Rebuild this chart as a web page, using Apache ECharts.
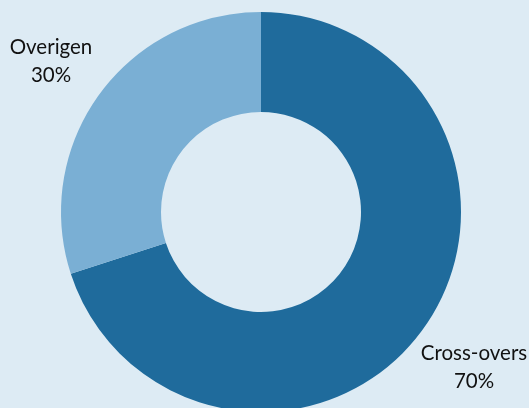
<!DOCTYPE html>
<html><head><meta charset="utf-8">
<script src="https://cdn.jsdelivr.net/npm/echarts@6/dist/echarts.min.js"></script>
<style>html,body{margin:0;padding:0;background:#ddebf4}#c{width:529px;height:408px}</style>
</head><body><div id="c"></div>
<script>
const categories = ['Cross-overs', 'Overigen'];
const values = [70, 30];
const colors = ['#1f6b9c', '#7aafd4'];
const labelWidths = [110, 90];
const edgeDist = [0, 6];
const lineLens = [64, 57];

const chart = echarts.init(document.getElementById('c'), null, {renderer: 'canvas'});
chart.setOption({
  backgroundColor: '#ddebf4',
  animation: false,
  series: [{
    type: 'pie',
    center: [261, 212],
    radius: [100, 200],
    startAngle: 90,
    clockwise: true,
    avoidLabelOverlap: false,
    data: categories.map((n, i) => ({
      name: n, value: values[i],
      itemStyle: {color: colors[i]},
      labelLine: {show: false, length: lineLens[i], length2: 0},
      label: {edgeDistance: edgeDist[i], rich: {a: {width: labelWidths[i], align: 'center', fontFamily: 'Lato', fontSize: 20.5, color: '#111', lineHeight: 28}}}
    })),
    label: {
      show: true,
      position: 'outside',
      alignTo: 'edge',
      formatter: p => '{a|' + p.name + '}\n{a|' + p.value + '%}'
    },
    labelLine: {show: false, length: 63, length2: 0}
  }]
});
</script></body></html>
